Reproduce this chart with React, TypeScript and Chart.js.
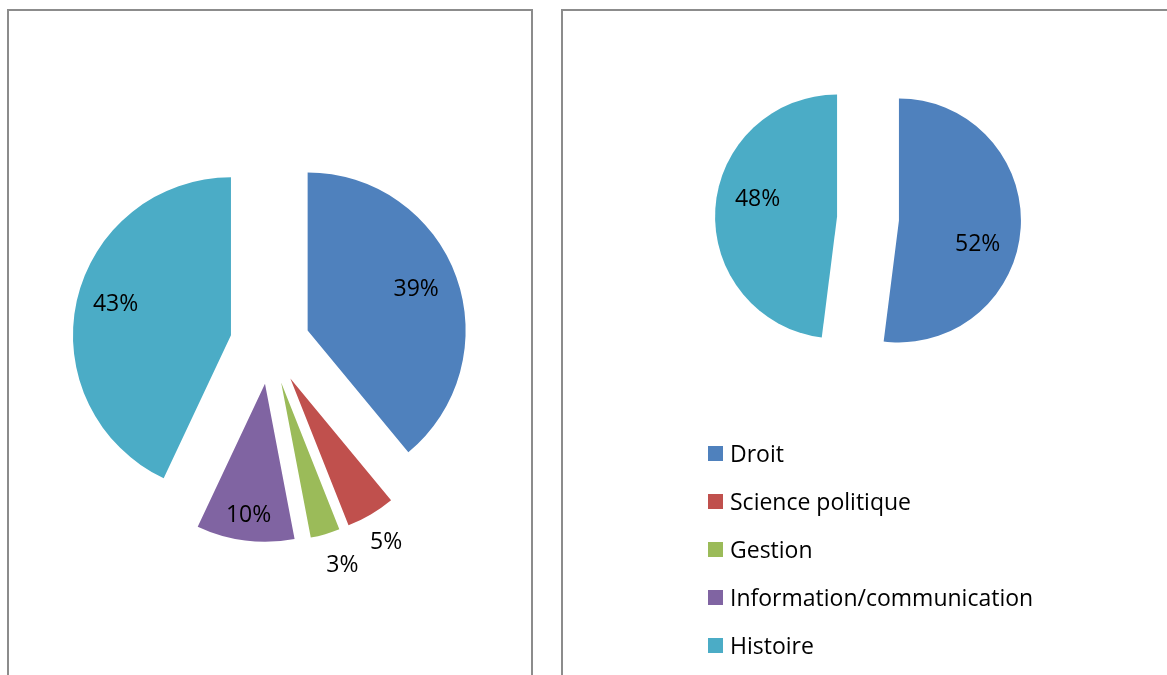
import React, { useEffect, useRef } from "react";
import { Chart, registerables } from "chart.js";

Chart.register(...registerables);

const categories = ["Droit", "Science politique", "Gestion", "Information/communication", "Histoire"];
const colors = ["#4F81BD", "#C0504D", "#9BBB59", "#8064A2", "#4BACC6"];
const leftValues = [39, 5, 3, 10, 43];
const rightValues = [52, 0, 0, 0, 48];

const FONT = "'Open Sans', sans-serif";

// Explode every slice by the same distance along its mid-angle, keeping true radial edges
const explodeSlices = {
  id: "explodeSlices",
  beforeDatasetsDraw(chart: any, _args: any, opts: any) {
    const meta = chart.getDatasetMeta(0);
    const area = chart.chartArea;
    const cx = (area.left + area.right) / 2;
    const cy = (area.top + area.bottom) / 2;
    meta.data.forEach((arc: any) => {
      const mid = (arc.startAngle + arc.endAngle) / 2;
      arc.x = cx + Math.cos(mid) * opts.distance;
      arc.y = cy + Math.sin(mid) * opts.distance;
    });
  },
};

const pctLabels = {
  id: "pctLabels",
  afterDatasetsDraw(chart: any, _args: any, opts: any) {
    const ctx = chart.ctx;
    const meta = chart.getDatasetMeta(0);
    const data = chart.data.datasets[0].data as number[];
    const total = data.reduce((a: number, b: number) => a + b, 0);
    const factors: number[] = opts.factors || [];
    const shifts: number[] = opts.shifts || [];
    ctx.save();
    ctx.font = `${opts.size || 23}px ${FONT}`;
    ctx.fillStyle = "#000";
    ctx.textAlign = "center";
    ctx.textBaseline = "middle";
    meta.data.forEach((arc: any, i: number) => {
      const v = data[i];
      if (!v) return;
      const mid = (arc.startAngle + arc.endAngle) / 2;
      const d = (factors[i] ?? 0.7) * arc.outerRadius;
      const a = mid + ((shifts[i] || 0) * Math.PI) / 180;
      ctx.fillText(`${Math.round((v / total) * 100)}%`, arc.x + Math.cos(a) * d, arc.y + Math.sin(a) * d + 2);
    });
    ctx.restore();
  },
};

function PieCanvas(props: {
  values: number[];
  radius: number;
  explode: number;
  padding: any;
  factors: number[];
  shifts: number[];
  style: React.CSSProperties;
}) {
  const ref = useRef<HTMLCanvasElement>(null);
  useEffect(() => {
    const chart = new Chart(ref.current as HTMLCanvasElement, {
      type: "pie",
      data: {
        labels: categories,
        datasets: [
          {
            data: props.values,
            backgroundColor: colors,
            borderWidth: 0,
            radius: props.radius,
          } as any,
        ],
      },
      options: {
        animation: false,
        responsive: false,
        maintainAspectRatio: false,
        layout: { padding: props.padding },
        plugins: {
          legend: { display: false },
          tooltip: { enabled: false },
          explodeSlices: { distance: props.explode },
          pctLabels: { factors: props.factors, shifts: props.shifts, size: 23 },
        } as any,
      },
      plugins: [explodeSlices, pctLabels],
    });
    return () => chart.destroy();
  }, []);
  const w = props.style.width as number;
  const h = props.style.height as number;
  return <canvas ref={ref} width={w} height={h} style={{ position: "absolute", ...props.style }} />;
}

export default function App() {
  const panelBorder = "2px solid #8c8c8c";
  return (
    <div>
      <div
        style={{
          position: "absolute",
          left: 7,
          top: 9,
          width: 526,
          height: 666,
          borderLeft: panelBorder,
          borderTop: panelBorder,
          borderRight: panelBorder,
          boxSizing: "border-box",
          background: "#fff",
        }}
      />
      <div
        style={{
          position: "absolute",
          left: 561,
          top: 9,
          width: 606,
          height: 666,
          borderLeft: panelBorder,
          borderTop: panelBorder,
          boxSizing: "border-box",
          background: "#fff",
        }}
      />
      <PieCanvas
        values={leftValues}
        radius={158}
        explode={40}
        padding={{ top: 13, bottom: 0, left: 0, right: 0 }}
        factors={[0.74, 1.19, 1.21, 0.83, 0.76]}
        shifts={[-2, 0, -2.5, 0, 3.5]}
        style={{ left: 0, top: 0, width: 540, height: 675 }}
      />
      <PieCanvas
        values={rightValues}
        radius={122}
        explode={31}
        padding={{ top: 0, bottom: 238, left: 24, right: 0 }}
        factors={[0.67, 0.7, 0.7, 0.7, 0.67]}
        shifts={[12, 0, 0, 0, 10]}
        style={{ left: 545, top: 0, width: 622, height: 675 }}
      />
      {categories.map((c, i) => (
        <div
          key={c}
          style={{
            position: "absolute",
            left: 708,
            top: 438 + i * 48,
            height: 30,
            display: "flex",
            alignItems: "center",
            fontFamily: FONT,
            fontSize: 23,
            color: "#000",
            whiteSpace: "nowrap",
          }}
        >
          <span style={{ display: "inline-block", width: 15, height: 15, background: colors[i], marginRight: 7 }} />
          <span>{c}</span>
        </div>
      ))}
    </div>
  );
}
